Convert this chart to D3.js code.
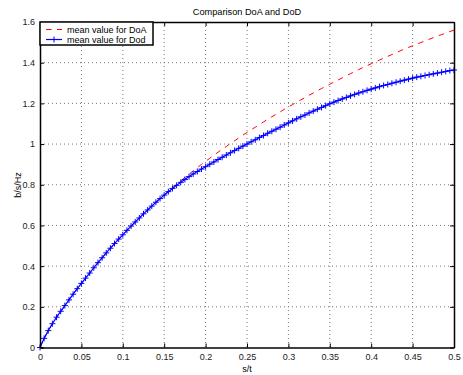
<!DOCTYPE html>
<html><head><meta charset="utf-8">
<script src="https://cdn.jsdelivr.net/npm/d3@7"></script>
<style>body{margin:0;background:#fff}svg{display:block}text{font-family:"Liberation Sans",Arial,sans-serif}</style>
</head><body>
<svg id="c" width="463" height="375"></svg>
<script>
const xValues = d3.range(0, 101).map(i => +(i * 0.005).toFixed(3));
const doaValues = [0,0.045,0.083,0.117,0.149,0.178,0.206,0.234,0.262,0.289,0.315,0.341,0.366,0.392,0.417,0.441,0.465,0.488,0.511,0.533,
0.554,0.576,0.597,0.617,0.637,0.657,0.676,0.695,0.714,0.732,0.750,0.768,0.785,0.802,0.819,0.836,0.852,0.868,0.884,0.900,
0.915,0.930,0.945,0.960,0.974,0.988,1.003,1.016,1.030,1.044,1.057,1.070,1.083,1.096,1.109,1.122,1.134,1.146,1.158,1.171,
1.182,1.194,1.206,1.217,1.228,1.240,1.251,1.262,1.273,1.283,1.294,1.305,1.315,1.325,1.336,1.346,1.356,1.366,1.376,1.385,
1.395,1.404,1.413,1.422,1.431,1.440,1.449,1.458,1.467,1.475,1.483,1.491,1.499,1.507,1.515,1.523,1.531,1.538,1.545,1.553,1.560];
const dodValues = [0,0.045,0.083,0.117,0.149,0.178,0.206,0.234,0.262,0.289,0.315,0.341,0.366,0.392,0.417,0.441,0.465,0.488,0.511,0.533,
0.554,0.576,0.597,0.617,0.637,0.657,0.676,0.695,0.714,0.732,0.749,0.766,0.782,0.797,0.812,0.826,0.840,0.853,0.865,0.877,
0.889,0.901,0.912,0.924,0.935,0.946,0.957,0.968,0.979,0.990,1.000,1.011,1.021,1.032,1.042,1.053,1.063,1.073,1.083,1.094,
1.104,1.114,1.124,1.134,1.143,1.153,1.162,1.171,1.180,1.189,1.198,1.206,1.214,1.222,1.229,1.237,1.244,1.251,1.257,1.264,
1.270,1.276,1.282,1.288,1.293,1.299,1.304,1.309,1.314,1.319,1.324,1.329,1.333,1.337,1.341,1.345,1.349,1.353,1.357,1.361,1.364];
const xTicks = [0,0.05,0.1,0.15,0.2,0.25,0.3,0.35,0.4,0.45,0.5];
const yTicks = [0,0.2,0.4,0.6,0.8,1,1.2,1.4,1.6];
const seriesNames = ["mean value for DoA","mean value for Dod"];
const titleText = "Comparison DoA and DoD";
const xLabel = "s/t", yLabel = "b/s/Hz";

const FS = 9;
const svg = d3.select("#c");
const L = 40, R = 454, T = 22, B = 347.5;
const x = d3.scaleLinear().domain([0,0.5]).range([L,R]);
const y = d3.scaleLinear().domain([0,1.6]).range([B,T]);
const fmt = d => d === 0 ? "0" : String(+d.toFixed(2));

// grid
const grid = svg.append("g").attr("stroke","#777").attr("stroke-width",1).attr("stroke-dasharray","1,3");
xTicks.slice(1,-1).forEach(t => grid.append("line").attr("x1",x(t)).attr("x2",x(t)).attr("y1",T).attr("y2",B));
yTicks.slice(1,-1).forEach(t => grid.append("line").attr("y1",y(t)).attr("y2",y(t)).attr("x1",L).attr("x2",R));

// curves
svg.append("path").datum(xValues.map((v,i)=>[v,doaValues[i]]))
  .attr("d", d3.line().x(d=>x(d[0])).y(d=>y(d[1])))
  .attr("fill","none").attr("stroke","#ff0000").attr("stroke-width",1).attr("stroke-dasharray","5.5,5.5");
svg.append("path").datum(xValues.map((v,i)=>[v,dodValues[i]]))
  .attr("d", d3.line().x(d=>x(d[0])).y(d=>y(d[1])))
  .attr("fill","none").attr("stroke","#0000ff").attr("stroke-width",1.2);
svg.append("g").selectAll("path").data(xValues.map((v,i)=>[v,dodValues[i]])).join("path")
  .attr("d", (d)=>`M${x(d[0])-3},${y(d[1])}h6M${x(d[0])},${y(d[1])-3}v6`)
  .attr("stroke","#0000ff").attr("stroke-width",1).attr("fill","none");

// axes (box with inward ticks)
const axG = svg.append("g");
const axBottom = d3.axisBottom(x).tickValues(xTicks).tickFormat(fmt).tickSizeInner(-4).tickSizeOuter(0).tickPadding(6);
const axLeft = d3.axisLeft(y).tickValues(yTicks).tickFormat(fmt).tickSizeInner(-4).tickSizeOuter(0).tickPadding(5);
const axTop = d3.axisTop(x).tickValues(xTicks).tickFormat("").tickSizeInner(-4).tickSizeOuter(0);
const axRight = d3.axisRight(y).tickValues(yTicks).tickFormat("").tickSizeInner(-4).tickSizeOuter(0);
axG.append("g").attr("transform",`translate(0,${B})`).call(axBottom);
axG.append("g").attr("transform",`translate(${L},0)`).call(axLeft);
axG.append("g").attr("transform",`translate(0,${T})`).call(axTop);
axG.append("g").attr("transform",`translate(${R},0)`).call(axRight);
axG.selectAll(".domain").attr("stroke","#000").attr("stroke-width",1.5);
axG.selectAll(".tick line").attr("stroke","#000");
axG.selectAll(".tick text").attr("font-size",FS).attr("fill","#222").attr("font-family","Liberation Sans, Arial, sans-serif");

// labels
svg.append("text").attr("x",247).attr("y",15).attr("text-anchor","middle").attr("font-size",9.2).text(titleText);
svg.append("text").attr("x",247).attr("y",372).attr("text-anchor","middle").attr("font-size",FS).text(xLabel);
svg.append("text").attr("transform","translate(21,185) rotate(-90)").attr("text-anchor","middle").attr("font-size",FS).text(yLabel);

// legend
const lg = svg.append("g");
lg.append("rect").attr("x",L).attr("y",T).attr("width",113).attr("height",23).attr("fill","#fff").attr("stroke","#000").attr("stroke-width",1.5);
lg.append("line").attr("x1",46).attr("x2",62).attr("y1",29.5).attr("y2",29.5).attr("stroke","#ff0000").attr("stroke-dasharray","5.5,5.5");
lg.append("line").attr("x1",46).attr("x2",62).attr("y1",39.5).attr("y2",39.5).attr("stroke","#0000ff").attr("stroke-width",1.2);
lg.append("path").attr("d","M51,39.5h6M54,36.5v6").attr("stroke","#0000ff");
lg.append("text").attr("x",67).attr("y",32.5).attr("font-size",FS).text(seriesNames[0]);
lg.append("text").attr("x",67).attr("y",42.5).attr("font-size",FS).text(seriesNames[1]);
</script>
</body></html>
